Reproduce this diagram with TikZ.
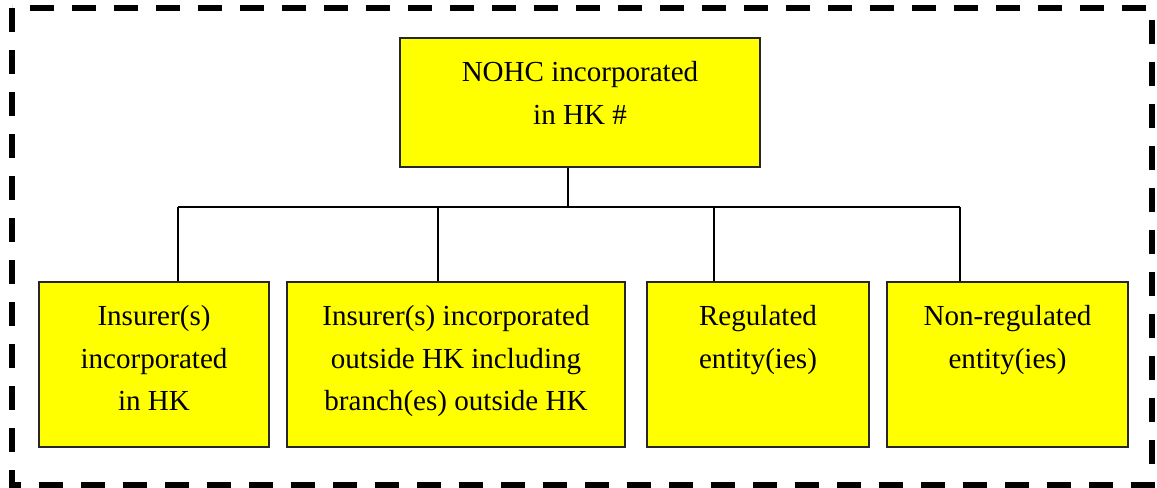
\documentclass[tikz,border=0pt]{standalone}
\usepackage{fontspec}
\setmainfont{Liberation Serif}
\definecolor{boxyellow}{RGB}{255,255,0}
\begin{document}
\begin{tikzpicture}[x=0.75pt,y=-0.75pt,
  orgbox/.style={draw=black!85, line width=0.9pt, fill=boxyellow, inner sep=0pt},
  boxtext/.style={anchor=north, inner sep=0pt, align=center,
    font=\fontsize{21.8pt}{31.9pt}\selectfont},
  link/.style={line width=1.1pt, black},
  dashbox/.style={line width=4.5pt, dash pattern=on 18pt off 13.5pt}]
\useasboundingbox (0,0) rectangle (1157,488);
\draw[dashbox] (12,8) rectangle (1152,485);
% boxes
\node[orgbox, minimum width={360*0.75pt}, minimum height={129*0.75pt}] (top) at (580,102.5) {};
\node[orgbox, minimum width={230*0.75pt}, minimum height={165*0.75pt}] (b1) at (154,364.5) {};
\node[orgbox, minimum width={338*0.75pt}, minimum height={165*0.75pt}] (b2) at (456,364.5) {};
\node[orgbox, minimum width={222*0.75pt}, minimum height={165*0.75pt}] (b3) at (758,364.5) {};
\node[orgbox, minimum width={241*0.75pt}, minimum height={165*0.75pt}] (b4) at (1007.5,364.5) {};
% texts
\node[boxtext] (ttop) at ([yshift=-23.7*0.75pt]top.north) {NOHC incorporated\\in HK \#};
\node[boxtext] (t1) at ([yshift=-23.7*0.75pt]b1.north) {Insurer(s)\\incorporated\\in HK};
\node[boxtext] (t2) at ([yshift=-23.7*0.75pt]b2.north) {Insurer(s) incorporated\\outside HK including\\branch(es) outside HK};
\node[boxtext] (t3) at ([yshift=-23.7*0.75pt]b3.north) {Regulated\\entity(ies)};
\node[boxtext] (t4) at ([yshift=-23.7*0.75pt]b4.north) {Non-regulated\\entity(ies)};
% bus
\coordinate (s0) at (568,207);
\coordinate (h1) at (178,207);
\coordinate (h2) at (438,207);
\coordinate (h3) at (714,207);
\coordinate (h4) at (960,207);
\draw[link] (s0 |- top.south) -- (s0);
\draw[link] (h1) -- (h4);
\draw[link] (h1) -- (h1 |- b1.north);
\draw[link] (h2) -- (h2 |- b2.north);
\draw[link] (h3) -- (h3 |- b3.north);
\draw[link] (h4) -- (h4 |- b4.north);
\end{tikzpicture}
\end{document}
